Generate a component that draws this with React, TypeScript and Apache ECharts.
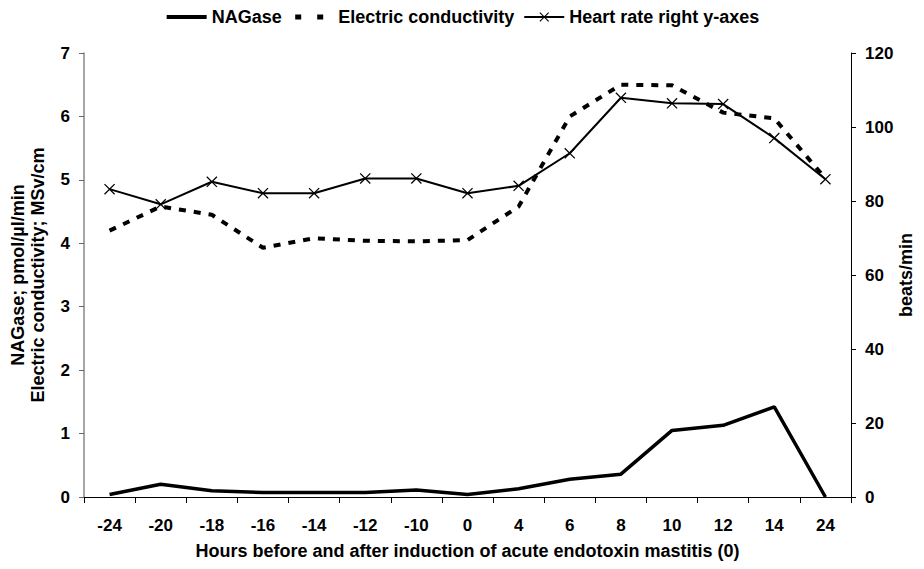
import React, { useEffect, useRef } from "react";
import * as echarts from "echarts";

const categories = ["-24", "-20", "-18", "-16", "-14", "-12", "-10", "0", "4", "6", "8", "10", "12", "14", "24"];
const nagase = [0.04, 0.2, 0.1, 0.07, 0.07, 0.07, 0.11, 0.04, 0.13, 0.28, 0.36, 1.05, 1.13, 1.42, 0.0];
const conductivity = [4.2, 4.58, 4.45, 3.93, 4.08, 4.04, 4.03, 4.05, 4.58, 6.0, 6.5, 6.49, 6.06, 5.97, 5.02];
const heartRate = [83.2, 79.1, 85.2, 82.1, 82.1, 86.1, 86.1, 82.1, 84.1, 92.9, 107.9, 106.4, 106.2, 97.0, 85.9];
const leftTicks = { min: 0, max: 7, interval: 1 };
const rightTicks = { min: 0, max: 120, interval: 20 };

const FONT = "'Liberation Sans', Arial, sans-serif";
const CROSS = "path://M0,0.8 L0.8,0 L10,9.2 L9.2,10 Z M9.2,0 L10,0.8 L0.8,10 L0,9.2 Z";

export default function App() {
  const ref = useRef<HTMLDivElement>(null);
  useEffect(() => {
    if (!ref.current) return;
    const chart = echarts.init(ref.current, null, { renderer: "svg" });
    const labelStyle = { color: "#000", fontFamily: FONT, fontWeight: "bold" as const, fontSize: 17 };
    const nameStyle = { color: "#000", fontFamily: FONT, fontWeight: "bold" as const, fontSize: 18 };
    chart.setOption({
      animation: false,
      backgroundColor: "#fff",
      textStyle: { fontFamily: FONT },
      legend: {
        top: 3,
        left: "center",
        itemWidth: 40,
        itemHeight: 12,
        itemGap: 9,
        textStyle: { color: "#000", fontFamily: FONT, fontWeight: "bold", fontSize: 18 },
        data: [
          { name: "NAGase", lineStyle: { width: 4 } },
          { name: "Electric conductivity", lineStyle: { type: [6, 16], width: 5, dashOffset: -2 } },
          { name: "Heart rate right y-axes", lineStyle: { width: 2 } },
        ],
      },
      grid: { left: 83, right: 73, top: 53, bottom: 72, containLabel: false },
      xAxis: {
        type: "category",
        data: categories,
        boundaryGap: true,
        name: "Hours before and after induction of acute endotoxin mastitis (0)",
        nameLocation: "middle",
        nameGap: 45,
        nameMoveOverlap: false,
        nameTextStyle: { ...nameStyle },
        axisLine: { lineStyle: { color: "#000", width: 1 } },
        axisTick: { show: true, length: 6, lineStyle: { color: "#000" } },
        axisLabel: { ...labelStyle, margin: 20 },
        splitLine: { show: false },
      },
      yAxis: [
        {
          type: "value",
          position: "left",
          min: leftTicks.min,
          max: leftTicks.max,
          interval: leftTicks.interval,
          name: "NAGase; pmol/µl/min\nElectric conductivity; MSv/cm",
          nameLocation: "middle",
          nameGap: 36,
          nameRotate: 90,
          nameMoveOverlap: false,
          nameTextStyle: { ...nameStyle, lineHeight: 20 },
          axisLine: { show: true, lineStyle: { color: "#888", width: 1.5 } },
          axisTick: { show: true, length: 5, lineStyle: { color: "#666" } },
          axisLabel: { ...labelStyle, margin: 14 },
          splitLine: { show: false },
        },
        {
          type: "value",
          position: "right",
          min: rightTicks.min,
          max: rightTicks.max,
          interval: rightTicks.interval,
          name: "beats/min",
          nameLocation: "middle",
          nameGap: 46,
          nameRotate: 90,
          nameMoveOverlap: false,
          nameTextStyle: { ...nameStyle },
          axisLine: { show: true, lineStyle: { color: "#000", width: 1 } },
          axisTick: { show: true, length: 5, lineStyle: { color: "#000" } },
          axisLabel: { ...labelStyle, margin: 14 },
          splitLine: { show: false },
        },
      ],
      series: [
        {
          name: "NAGase",
          type: "line",
          data: nagase,
          yAxisIndex: 0,
          symbol: "none",
          lineStyle: { color: "#000", width: 3.5 },
          itemStyle: { color: "transparent" },
          z: 3,
        },
        {
          name: "Electric conductivity",
          type: "line",
          data: conductivity,
          yAxisIndex: 0,
          symbol: "none",
          lineStyle: { color: "#000", width: 4, type: [7, 8] },
          itemStyle: { color: "transparent" },
          z: 2,
        },
        {
          name: "Heart rate right y-axes",
          type: "line",
          data: heartRate,
          yAxisIndex: 1,
          symbol: CROSS,
          symbolSize: 11,
          showAllSymbol: true,
          lineStyle: { color: "#000", width: 2 },
          itemStyle: { color: "#000" },
          z: 4,
        },
      ],
    });
    return () => chart.dispose();
  }, []);
  return <div ref={ref} style={{ position: "fixed", left: 0, top: 0, width: 924, height: 569, background: "#fff" }} />;
}
